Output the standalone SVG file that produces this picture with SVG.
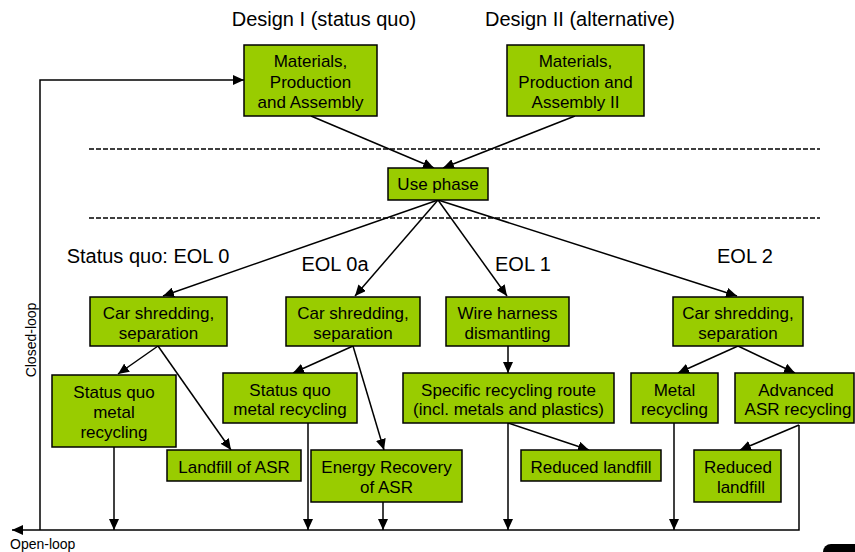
<svg xmlns="http://www.w3.org/2000/svg" width="855" height="552" viewBox="0 0 855 552">
<defs>
<marker id="ah" markerUnits="userSpaceOnUse" markerWidth="11" markerHeight="10" viewBox="0 0 11 10" refX="11" refY="5" orient="auto">
<path d="M0,0 L11,5 L0,10 z" fill="#000"/>
</marker>
<style>
.box{fill:#99cc00;stroke:#000;stroke-width:1.5}
.t{font-family:"Liberation Sans",Arial,sans-serif;font-size:17px;fill:#000;text-anchor:middle}
.lbl{font-family:"Liberation Sans",Arial,sans-serif;font-size:20px;fill:#000;text-anchor:middle}
.sm{font-family:"Liberation Sans",Arial,sans-serif;font-size:14px;fill:#000}
.c{fill:none;stroke:#000;stroke-width:1.5;marker-end:url(#ah)}
.l{fill:none;stroke:#000;stroke-width:1.5}
.d{fill:none;stroke:#000;stroke-width:1.4;stroke-dasharray:5 2}
</style>
</defs>
<rect width="855" height="552" fill="#fff"/>
<g id="labels">
<text class="lbl" x="324" y="26">Design I (status quo)</text>
<text class="lbl" x="580" y="26">Design II (alternative)</text>
<text class="lbl" x="148" y="263">Status quo: EOL 0</text>
<text class="lbl" x="335" y="271">EOL 0a</text>
<text class="lbl" x="523" y="271">EOL 1</text>
<text class="lbl" x="745" y="263">EOL 2</text>
<text class="sm" transform="translate(36,340) rotate(-90)" text-anchor="middle">Closed-loop</text>
<text class="sm" x="10" y="549">Open-loop</text>
</g>
<g id="dividers">
<line class="d" x1="89" y1="149" x2="820" y2="149"/>
<line class="d" x1="89" y1="218" x2="820" y2="218"/>
</g>
<g id="connectors">
<path class="c" d="M40,530 V80 H244"/>
<path class="c" d="M799,425 V530 H12"/>
<path class="c" d="M311,116 L434,168"/>
<path class="c" d="M575,116 L443,168"/>
<path class="c" d="M438,200 L163,296"/>
<path class="c" d="M438,200 L355,296"/>
<path class="c" d="M438,200 L507,296"/>
<path class="c" d="M438,200 L737,296"/>
<path class="c" d="M158,346 L118,374"/>
<path class="c" d="M158,346 L231,450"/>
<path class="c" d="M353,346 L293,373"/>
<path class="c" d="M353,346 L384,450"/>
<path class="c" d="M508,346 V373"/>
<path class="c" d="M738,346 L678,373"/>
<path class="c" d="M738,346 L795,373"/>
<path class="c" d="M508,423 L589,450"/>
<path class="c" d="M799,425 L740,450"/>
<path class="c" d="M114,447 V530"/>
<path class="c" d="M308,423 V530"/>
<path class="c" d="M383,502 V530"/>
<path class="c" d="M508,423 V530"/>
<path class="c" d="M674,423 V530"/>
</g>
<g id="mat1"><rect class="box" x="244" y="45" width="133" height="71"/>
<text class="t" x="310.5" y="67">Materials,</text><text class="t" x="310.5" y="87.5">Production</text><text class="t" x="310.5" y="108">and Assembly</text></g>
<g id="mat2"><rect class="box" x="507" y="45" width="137" height="71"/>
<text class="t" x="575.5" y="67">Materials,</text><text class="t" x="575.5" y="87.5">Production and</text><text class="t" x="575.5" y="108">Assembly II</text></g>
<g id="use"><rect class="box" x="388" y="168" width="100" height="32"/>
<text class="t" x="438" y="190">Use phase</text></g>
<g id="shred0"><rect class="box" x="90" y="297" width="137" height="49"/>
<text class="t" x="158.5" y="319">Car shredding,</text><text class="t" x="158.5" y="339">separation</text></g>
<g id="shred0a"><rect class="box" x="286" y="297" width="134" height="49"/>
<text class="t" x="353" y="319">Car shredding,</text><text class="t" x="353" y="339">separation</text></g>
<g id="wire"><rect class="box" x="446" y="297" width="123" height="49"/>
<text class="t" x="507.5" y="319">Wire harness</text><text class="t" x="507.5" y="339">dismantling</text></g>
<g id="shred2"><rect class="box" x="673" y="297" width="130" height="49"/>
<text class="t" x="738" y="319">Car shredding,</text><text class="t" x="738" y="339">separation</text></g>
<g id="sqmr0"><rect class="box" x="52" y="375" width="124" height="72"/>
<text class="t" x="114" y="398">Status quo</text><text class="t" x="114" y="418">metal</text><text class="t" x="114" y="438">recycling</text></g>
<g id="sqmr0a"><rect class="box" x="223" y="373" width="134" height="50"/>
<text class="t" x="290" y="396">Status quo</text><text class="t" x="290" y="415">metal recycling</text></g>
<g id="landfill"><rect class="box" x="167" y="450" width="134" height="31"/>
<text class="t" x="234" y="473">Landfill of ASR</text></g>
<g id="energy"><rect class="box" x="311" y="450" width="151" height="52"/>
<text class="t" x="386.5" y="473">Energy Recovery</text><text class="t" x="386.5" y="493">of ASR</text></g>
<g id="specific"><rect class="box" x="403" y="373" width="211" height="50"/>
<text class="t" x="508.5" y="396">Specific recycling route</text><text class="t" x="508.5" y="415">(incl. metals and plastics)</text></g>
<g id="reduced1"><rect class="box" x="521" y="450" width="140" height="31"/>
<text class="t" x="591" y="473">Reduced landfill</text></g>
<g id="metal"><rect class="box" x="631" y="373" width="87" height="50"/>
<text class="t" x="674.5" y="396">Metal</text><text class="t" x="674.5" y="415">recycling</text></g>
<g id="advasr"><rect class="box" x="735" y="373" width="119" height="50"/>
<text class="t" x="796" y="396">Advanced</text><text class="t" x="798" y="415">ASR recycling</text></g>
<g id="reduced2"><rect class="box" x="694" y="450" width="87" height="52"/>
<text class="t" x="738" y="473">Reduced</text><text class="t" x="741" y="493">landfill</text></g>
<rect x="823" y="544" width="40" height="20" rx="8" fill="#000"/>
</svg>
